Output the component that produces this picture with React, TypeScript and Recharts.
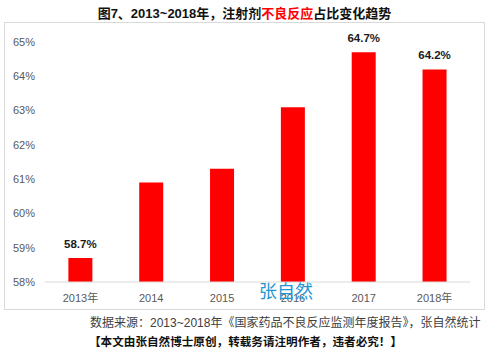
import { BarChart, Bar, XAxis, YAxis, LabelList } from "recharts";

const years = ["2013年", "2014", "2015", "2016", "2017", "2018年"];
const shares = [58.7, 60.9, 61.3, 63.1, 64.7, 64.2];
const shownLabels = ["58.7%", "", "", "", "64.7%", "64.2%"];
const yTicks = [58, 59, 60, 61, 62, 63, 64, 65];

const data = years.map((year, i) => ({ year, share: shares[i], label: shownLabels[i] }));

const cjk = "'Liberation Sans', 'Noto Sans CJK SC', sans-serif";

const renderLabel = (props: any) => {
  const { x, y, width, index } = props;
  const text = shownLabels[index];
  if (!text) return null;
  return (
    <text
      x={x + width / 2}
      y={y - 10}
      textAnchor="middle"
      fontSize={11.5}
      fontWeight="bold"
      fill="#1a1a1a"
      fontFamily={cjk}
    >
      {text}
    </text>
  );
};

export default function App() {
  return (
    <div style={{ position: "absolute", left: 0, top: 0, width: 489, height: 353, background: "#fff", fontFamily: cjk }}>
      <div style={{ position: "absolute", left: 0, top: 3, width: 489, textAlign: "center", fontSize: 13, fontWeight: "bold", color: "#111" }}>
        图7、2013~2018年，注射剂<span style={{ color: "#ff0000" }}>不良反应</span>占比变化趋势
      </div>
      <div style={{ position: "absolute", left: 4, top: 22, width: 479, height: 286, border: "1px solid #d9d9d9" }} />
      <div style={{ position: "absolute", left: 0, top: 0 }}>
        <BarChart width={489} height={353} data={data} margin={{ top: 42, right: 19, left: 0, bottom: 46 }} barCategoryGap="33%">
          <XAxis
            dataKey="year"
            axisLine={{ stroke: "#d9d9d9" }}
            tickLine={false}
            tickMargin={6}
            height={25}
            tick={{ fill: "#595959", fontSize: 11, fontFamily: cjk }}
          />
          <YAxis
            domain={[58, 65]}
            ticks={yTicks}
            width={45}
            axisLine={false}
            tickLine={false}
            tickMargin={4}
            tickFormatter={(v: number) => `${v}%`}
            tick={{ fill: "#595959", fontSize: 11, fontFamily: cjk }}
          />
          <Bar dataKey="share" fill="#ff0000" isAnimationActive={false}>
            <LabelList dataKey="label" content={renderLabel} />
          </Bar>
        </BarChart>
      </div>
      <div style={{ position: "absolute", left: 259, top: 277, fontSize: 18, color: "#1e96d4", fontFamily: "'Noto Sans CJK SC', sans-serif" }}>
        张自然
      </div>
      <div style={{ position: "absolute", left: 90, top: 313, fontSize: 12, color: "#404040", whiteSpace: "nowrap" }}>
        数据来源：2013~2018年《国家药品不良反应监测年度报告》，张自然统计
      </div>
      <div style={{ position: "absolute", left: 89, top: 333, fontSize: 11.6, fontWeight: "bold", color: "#111", whiteSpace: "nowrap" }}>
        【本文由张自然博士原创，转载务请注明作者，违者必究！】
      </div>
    </div>
  );
}
